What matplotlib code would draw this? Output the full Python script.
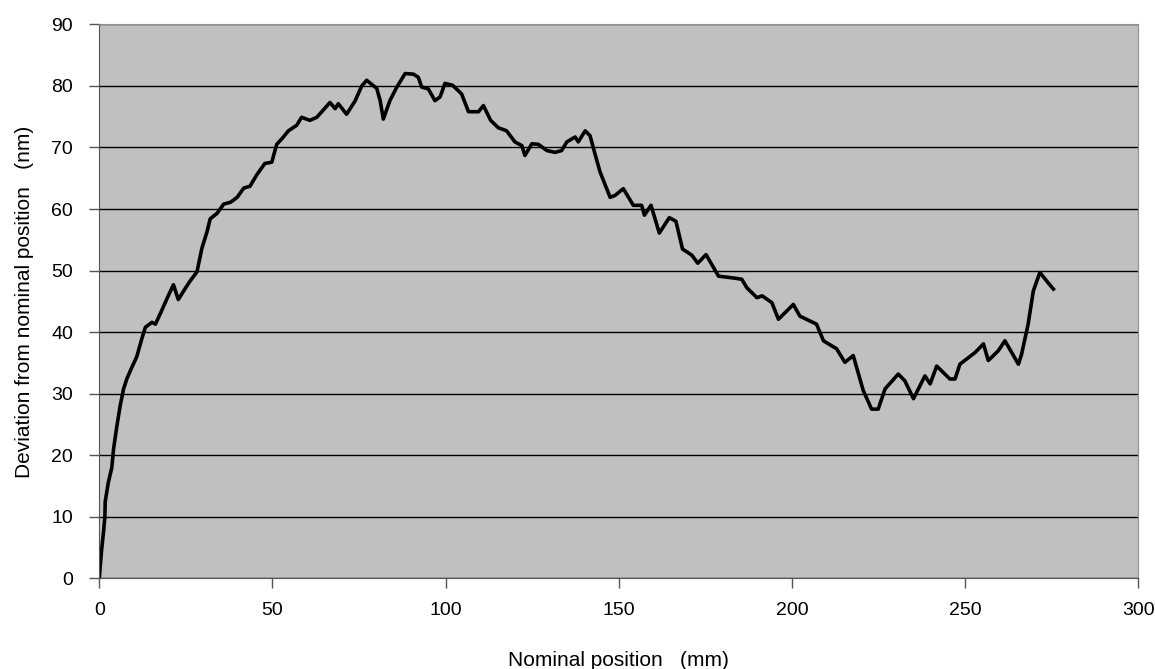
import matplotlib.pyplot as plt

plt.rcParams['font.family'] = ['Liberation Sans', 'DejaVu Sans']

# Data (nominal position in mm, deviation in nm)
position = [0, 0.2, 0.7, 1.2, 1.6, 1.7, 2.6, 3.6, 4.1, 5.0, 6.0, 7.0, 8.0, 9.4,
            10.8, 12.3, 13.3, 15.2, 16.2, 17.6, 19.9, 21.4, 22.8, 24.8, 26.2,
            28.2, 29.6, 31.1, 32.0, 34.0, 35.9, 37.9, 39.8, 41.7, 43.5, 45.4,
            47.8, 49.8, 51.2, 52.7, 54.6, 57.0, 58.4, 60.8, 62.8, 66.6, 68.1,
            69.0, 71.4, 73.8, 75.8, 77.2, 80.1, 81.1, 82.0, 83.9, 85.9, 88.3,
            90.7, 92.1, 93.1, 95.0, 96.9, 98.4, 99.8, 102.0, 104.6, 106.6,
            109.5, 110.9, 113.0, 115.2, 117.6, 120.0, 122.0, 122.9, 124.9,
            126.8, 129.2, 131.6, 133.5, 135.0, 137.4, 138.3, 140.3, 141.7,
            143.1, 144.6, 147.5, 148.9, 151.3, 152.8, 154.2, 156.6, 157.4,
            159.3, 161.7, 164.6, 166.5, 168.4, 171.1, 172.8, 175.2, 178.8,
            183.1, 185.5, 187.0, 189.9, 191.4, 194.2, 196.1, 200.4, 202.3,
            207.1, 209.1, 212.9, 215.3, 217.7, 220.6, 223.0, 224.9, 226.9,
            230.7, 232.6, 235.1, 238.4, 239.9, 241.8, 245.6, 247.1, 248.5,
            252.9, 255.3, 256.7, 259.6, 261.5, 265.4, 266.3, 268.2, 269.7,
            271.6, 274.0, 275.5]
deviation = [0, 1.6, 4.9, 7.5, 10, 12.5, 15.6, 18, 21, 24.5, 28, 30.8, 32.5, 34.3,
             36, 39, 40.8, 41.6, 41.3, 43, 45.9, 47.7, 45.3, 47.1, 48.3,
             49.8, 53.6, 56.3, 58.4, 59.3, 60.8, 61.1, 61.9, 63.4, 63.7, 65.5,
             67.4, 67.6, 70.5, 71.4, 72.7, 73.6, 74.9, 74.4, 74.9, 77.3, 76.3,
             77.1, 75.4, 77.5, 80.0, 80.9, 79.6, 77.6, 74.6, 77.6, 79.8, 82.0,
             81.9, 81.4, 79.8, 79.5, 77.6, 78.2, 80.4, 80.1, 78.7, 75.8,
             75.8, 76.8, 74.4, 73.2, 72.7, 70.9, 70.3, 68.7, 70.6,
             70.5, 69.5, 69.2, 69.5, 70.9, 71.7, 70.9, 72.7, 71.9,
             69.0, 66.0, 61.9, 62.2, 63.3, 61.9, 60.6, 60.6, 59.0,
             60.6, 56.1, 58.6, 58.0, 53.5, 52.5, 51.2, 52.6, 49.1,
             48.8, 48.6, 47.2, 45.6, 45.9, 44.8, 42.1, 44.5, 42.6,
             41.3, 38.6, 37.3, 35.1, 36.2, 30.5, 27.5, 27.5, 30.8,
             33.2, 32.1, 29.2, 32.9, 31.6, 34.5, 32.4, 32.4, 34.8,
             36.7, 38.1, 35.4, 37.0, 38.6, 34.8, 36.4, 41.3, 46.7,
             49.7, 48.0, 47.0]

x_ticks = [0, 50, 100, 150, 200, 250, 300]
y_ticks = [0, 10, 20, 30, 40, 50, 60, 70, 80, 90]

fig = plt.figure(figsize=(11.55, 6.69), dpi=100)
ax = fig.add_axes([0.086, 0.1353, 0.8995, 0.8284])
ax.set_facecolor('#C0C0C0')

ax.plot(position, deviation, color='black', linewidth=2.6)

ax.set_xlim(0, 300)
ax.set_ylim(0, 90)
ax.set_xticks(x_ticks)
ax.set_yticks(y_ticks)
ax.yaxis.grid(True, color='black', linewidth=1)
ax.set_axisbelow(True)

for side in ['top', 'right']:
    ax.spines[side].set_color('#909090')
for side in ['left', 'bottom']:
    ax.spines[side].set_color('#555555')

ax.tick_params(axis='x', direction='out', length=7, width=1, color='#555555',
               pad=10, labelsize=14)
ax.tick_params(axis='y', direction='out', length=7, width=1, color='#555555',
               pad=12, labelsize=14)

ax.set_xlabel('Nominal position   (mm)', fontsize=15, labelpad=23)
ax.set_ylabel('Deviation from nominal position   (nm)', fontsize=15, labelpad=12.5)

plt.savefig('out.png', dpi=100)
